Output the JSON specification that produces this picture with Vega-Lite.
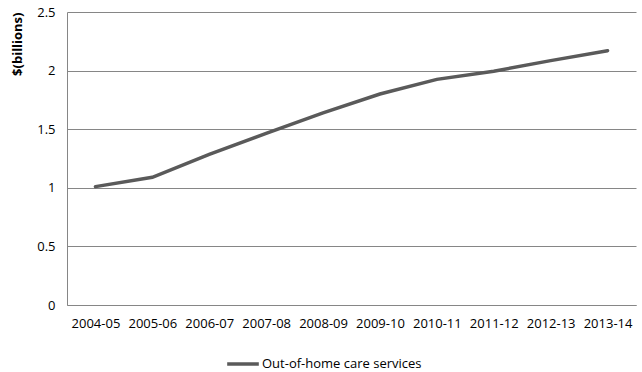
{
  "$schema": "https://vega.github.io/schema/vega-lite/v6.json",
  "width": 569,
  "height": 293,
  "autosize": {"type": "none"},
  "padding": {"left": 67, "top": 12, "right": 6, "bottom": 67},
  "background": "white",
  "config": {
    "view": {"stroke": null},
    "font": "Open Sans"
  },
  "data": {
    "values": [
      {"year": "2004-05", "value": 1.01, "series": "Out-of-home care services"},
      {"year": "2005-06", "value": 1.09, "series": "Out-of-home care services"},
      {"year": "2006-07", "value": 1.285, "series": "Out-of-home care services"},
      {"year": "2007-08", "value": 1.465, "series": "Out-of-home care services"},
      {"year": "2008-09", "value": 1.64, "series": "Out-of-home care services"},
      {"year": "2009-10", "value": 1.80, "series": "Out-of-home care services"},
      {"year": "2010-11", "value": 1.925, "series": "Out-of-home care services"},
      {"year": "2011-12", "value": 1.995, "series": "Out-of-home care services"},
      {"year": "2012-13", "value": 2.085, "series": "Out-of-home care services"},
      {"year": "2013-14", "value": 2.17, "series": "Out-of-home care services"}
    ]
  },
  "mark": {"type": "line", "strokeWidth": 3.5, "strokeCap": "round"},
  "encoding": {
    "x": {
      "field": "year", "type": "ordinal", "title": null,
      "axis": {"labelAngle": 0, "ticks": false, "domainColor": "#868686", "labelFontSize": 13, "labelColor": "#000000", "labelPadding": 12, "grid": false}
    },
    "y": {
      "field": "value", "type": "quantitative", "title": "$(billions)",
      "scale": {"domain": [0, 2.5], "nice": false},
      "axis": {"values": [0, 0.5, 1, 1.5, 2, 2.5], "format": "~g", "ticks": false, "domainColor": "#868686", "gridColor": "#868686", "gridOpacity": 1, "labelFontSize": 13, "labelColor": "#000000", "labelPadding": 12, "titleFontSize": 13, "titleFontWeight": "bold", "titleColor": "#000000", "titlePadding": 12, "titleAnchor": "end"}
    },
    "color": {
      "field": "series", "type": "nominal", "title": null,
      "scale": {"range": ["#5a5a5a"]},
      "legend": {"orient": "none", "legendX": 158, "legendY": 334, "symbolType": "stroke", "symbolSize": 1000, "symbolStrokeWidth": 3.5, "labelFontSize": 13, "labelColor": "#000000", "labelOffset": 1}
    }
  }
}
